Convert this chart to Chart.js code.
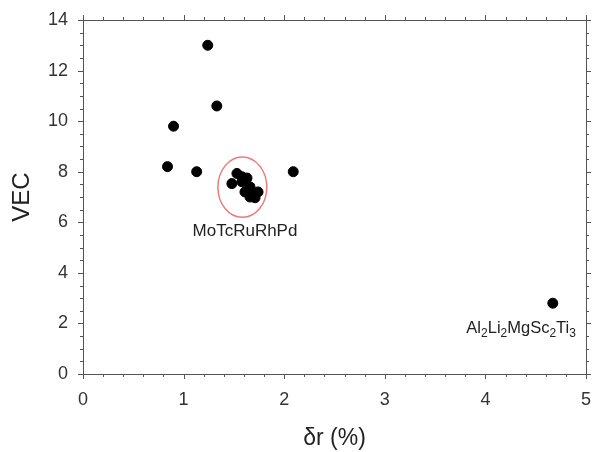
<!DOCTYPE html>
<html>
<head>
<meta charset="utf-8">
<script src="https://cdn.jsdelivr.net/npm/chart.js@4"></script>
<style>
  html, body { margin: 0; padding: 0; background: #fff; overflow: hidden; }
  #wrap { width: 592px; height: 452px; }
</style>
</head>
<body>
<div id="wrap"><canvas id="scatterChart"></canvas></div>
<script>
// values
var deltaR = [1.24, 1.33, 0.90, 0.84, 1.13, 2.09, 4.67, 1.53, 1.48, 1.58, 1.66, 1.61, 1.69, 1.74, 1.66, 1.71, 1.58, 1.63];
var vec    = [13.0, 10.6, 9.8, 8.2, 8.0, 8.0, 2.8, 7.93, 7.53, 7.6, 7.4, 7.2, 7.14, 7.2, 7.0, 6.97, 7.8, 7.75];

var xTicks = [0, 1, 2, 3, 4, 5];
var yTicks = [0, 2, 4, 6, 8, 10, 12, 14];

// circled group and text labels (data coords)
var circleCenter = [1.584, 7.39];
var circleRadius = [0.243, 1.19];
var clusterLabel = { text: 'MoTcRuRhPd', x: 1.61, y: 5.65 };
var alloyLabel = { x: 4.355, y: 1.8, parts: [['Al', 0], ['2', 1], ['Li', 0], ['2', 1], ['Mg', 0], ['Sc', 0], ['2', 1], ['Ti', 0], ['3', 1]] };

var points = deltaR.map(function (v, i) { return { x: v, y: vec[i] }; });

var frameAndExtras = {
    id: 'frameAndExtras',
    afterDatasetsDraw: function (chart) {
        var c = chart.ctx, a = chart.chartArea;
        var xs = chart.scales.x, ys = chart.scales.y;
        c.save();
        // frame
        c.strokeStyle = '#555';
        c.lineWidth = 1;
        c.strokeRect(a.left + 0.5, a.top + 0.5, a.right - a.left, a.bottom - a.top);
        // ticks on all four sides
        c.beginPath();
        var i, v, p, len;
        for (i = 0; i <= 25; i++) {
            v = i * 0.2;
            p = Math.round(xs.getPixelForValue(v)) + 0.5;
            len = (i % 5 === 0) ? 5 : 3;
            c.moveTo(p, a.bottom); c.lineTo(p, a.bottom + len);
            c.moveTo(p, a.top); c.lineTo(p, a.top - len);
        }
        for (i = 0; i <= 28; i++) {
            v = i * 0.5;
            p = Math.round(ys.getPixelForValue(v)) + 0.5;
            len = (i % 4 === 0) ? 5 : 3;
            c.moveTo(a.left, p); c.lineTo(a.left - len, p);
            c.moveTo(a.right, p); c.lineTo(a.right + len, p);
        }
        c.stroke();

        // red ellipse
        var cx = xs.getPixelForValue(circleCenter[0]);
        var cy = ys.getPixelForValue(circleCenter[1]);
        var rx = Math.abs(xs.getPixelForValue(circleCenter[0] + circleRadius[0]) - cx);
        var ry = Math.abs(ys.getPixelForValue(circleCenter[1] + circleRadius[1]) - cy);
        c.beginPath();
        c.ellipse(cx, cy, rx, ry, 0, 0, Math.PI * 2);
        c.strokeStyle = '#f07a7a';
        c.lineWidth = 1.5;
        c.stroke();

        // labels
        c.fillStyle = '#222';
        c.font = '17px "Liberation Sans", Arial, sans-serif';
        c.textAlign = 'center';
        c.textBaseline = 'middle';
        c.fillText(clusterLabel.text, xs.getPixelForValue(clusterLabel.x), ys.getPixelForValue(clusterLabel.y));

        var mainFont = '16.5px "Liberation Sans", Arial, sans-serif';
        var subFont = '12px "Liberation Sans", Arial, sans-serif';
        var total = 0;
        alloyLabel.parts.forEach(function (pt) {
            c.font = pt[1] ? subFont : mainFont;
            total += c.measureText(pt[0]).width;
        });
        var tx = xs.getPixelForValue(alloyLabel.x) - total / 2;
        var ty = ys.getPixelForValue(alloyLabel.y);
        c.textAlign = 'left';
        alloyLabel.parts.forEach(function (pt) {
            c.font = pt[1] ? subFont : mainFont;
            c.fillText(pt[0], tx, ty + (pt[1] ? 5 : 0));
            tx += c.measureText(pt[0]).width;
        });
        c.restore();
    }
};

var ctx = document.getElementById('scatterChart').getContext('2d');
var myChart = new Chart(ctx, {
    type: 'scatter',
    data: {
        datasets: [{
            data: points,
            backgroundColor: '#000',
            borderColor: '#000',
            pointRadius: 5,
            pointHoverRadius: 5
        }]
    },
    options: {
        responsive: true,
        maintainAspectRatio: false,
        animation: false,
        layout: { padding: { left: 0, right: 6, top: 20, bottom: 0 } },
        plugins: { legend: { display: false }, tooltip: { enabled: false } },
        scales: {
            x: {
                type: 'linear',
                min: 0, max: 5,
                grid: { display: false, drawTicks: false },
                border: { display: false },
                afterBuildTicks: function (s) { s.ticks = xTicks.map(function (v) { return { value: v }; }); },
                afterFit: function (s) { s.height = 78; s.paddingLeft = 0; s.paddingRight = 0; },
                ticks: {
                    padding: 15,
                    color: '#333',
                    font: { family: '"Liberation Sans", Arial, sans-serif', size: 18 }
                },
                title: {
                    display: true,
                    text: 'δr (%)',
                    color: '#222',
                    padding: { top: 0, bottom: 0 },
                    font: { family: '"Liberation Sans", Arial, sans-serif', size: 23 }
                }
            },
            y: {
                type: 'linear',
                min: 0, max: 14,
                grid: { display: false, drawTicks: false },
                border: { display: false },
                afterBuildTicks: function (s) { s.ticks = yTicks.map(function (v) { return { value: v }; }); },
                afterFit: function (s) { s.width = 83; s.paddingTop = 0; s.paddingBottom = 0; },
                ticks: {
                    padding: 15,
                    color: '#333',
                    font: { family: '"Liberation Sans", Arial, sans-serif', size: 18 }
                },
                title: {
                    display: true,
                    text: 'VEC',
                    color: '#222',
                    padding: { top: 8, bottom: 0 },
                    font: { family: '"Liberation Sans", Arial, sans-serif', size: 24 }
                }
            }
        }
    },
    plugins: [frameAndExtras]
});
</script>
</body>
</html>
